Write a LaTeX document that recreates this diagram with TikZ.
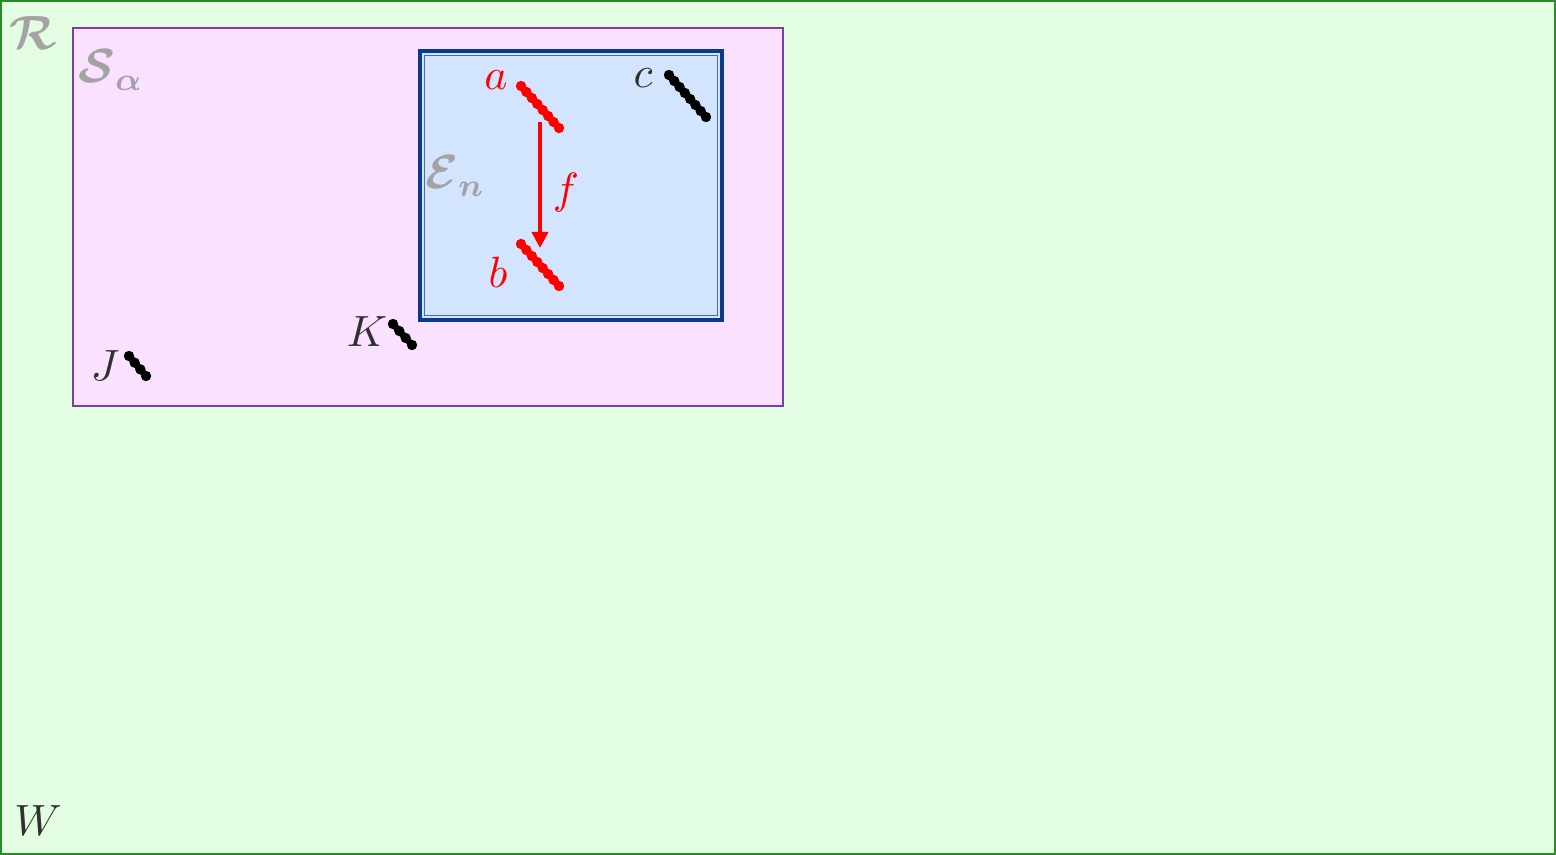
\documentclass[tikz,border=0pt]{standalone}
\usepackage{amsmath,amssymb,bm}
\usepackage{tikz}
\usetikzlibrary{arrows.meta, calc}
\usepackage{xcolor}
\definecolor{rGreen}{HTML}{2A8A2A}
\definecolor{rFill}{HTML}{E3FDE3}
\definecolor{sPurple}{HTML}{7B3FAA}
\definecolor{sFill}{HTML}{FAE1FF}
\definecolor{eBlue}{HTML}{0B3A8C}
\definecolor{eFill}{HTML}{D3E4FE}
\definecolor{lblGray}{HTML}{A3A3A3}
\definecolor{txtDark}{HTML}{303030}

% segment drawn as a row of dots
\newcommand{\dotseg}[4]{%
  \draw[#1, line width=1.6pt] (#2) -- (#3);
  \foreach \i in {0,...,#4} \fill[#1] ($(#2)!\i/#4!(#3)$) circle (1.3pt);
}

\begin{document}
\begin{tikzpicture}[x=0.25pt, y=-0.25pt,
    setlbl/.style={text=lblGray, font=\fontsize{11.5}{14}\selectfont},
    ptlbl/.style={text=txtDark, font=\fontsize{11}{13}\selectfont},
    redlbl/.style={text=red, font=\fontsize{11}{13}\selectfont}]
    \useasboundingbox (0,0) rectangle (1556,855);

    % Regions
    \draw[rGreen, fill=rFill, line width=0.5pt] (1,1) rectangle (1555,854);
    \draw[sPurple, fill=sFill, line width=0.4pt] (73,28) rectangle (783,406);
    \draw[eBlue, fill=eFill, line width=0.9pt] (420,51) rectangle (722,320);
    \draw[eBlue!75, line width=0.25pt] (424.5,55.5) rectangle (717.5,315.5);

    % Region labels
    \node[setlbl] (lblR) at (33,33) {$\bm{\mathcal{R}}$};
    \node[setlbl] (lblS) at (111,70) {$\bm{\mathcal{S}_\alpha}$};
    \node[setlbl] (lblE) at (455,176) {$\bm{\mathcal{E}_n}$};
    \node[ptlbl] (lblW) at (38,821) {$W$};

    % Segments
    \coordinate (a1) at (521,86);  \coordinate (a2) at (559,128);
    \coordinate (b1) at (521,244); \coordinate (b2) at (559,286);
    \coordinate (c1) at (669,75);  \coordinate (c2) at (706,117);
    \coordinate (k1) at (393,324); \coordinate (k2) at (412,345);
    \coordinate (j1) at (129,356); \coordinate (j2) at (146,376);
    \dotseg{red}{a1}{a2}{7}
    \dotseg{red}{b1}{b2}{7}
    \dotseg{black}{c1}{c2}{7}
    \dotseg{black}{k1}{k2}{3}
    \dotseg{black}{j1}{j2}{3}

    % Labels
    \node[redlbl] (lbla) at (496,80) {$a$};
    \node[redlbl] (lblb) at (498,272) {$b$};
    \node[ptlbl] (lblc) at (643,78) {$c$};
    \node[ptlbl] (lblK) at (367,332) {$K$};
    \node[ptlbl] (lblJ) at (105,366) {$J$};

    % Map f
    \coordinate (fsrc) at (540,122);
    \coordinate (fdst) at (540,248);
    \draw[red, line width=1pt, -{Triangle[length=4pt, width=4pt]}] (fsrc) -- (fdst);
    \node[redlbl] (lblf) at (566,193) {$f$};
\end{tikzpicture}
\end{document}
